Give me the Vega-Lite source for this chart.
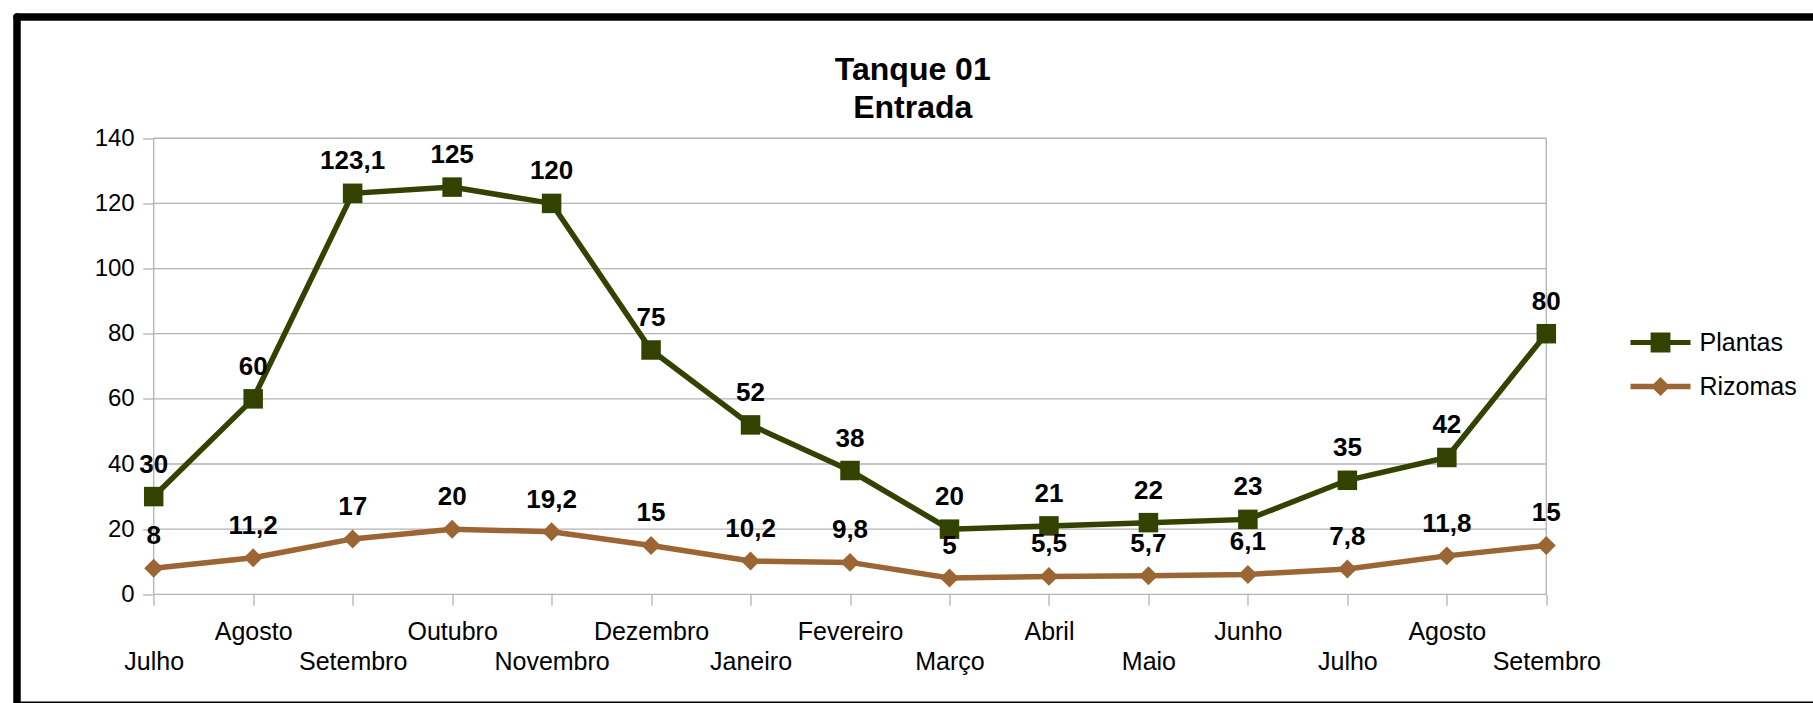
{
  "$schema": "https://vega.github.io/schema/vega-lite/v6.json",
  "autosize": {"type": "none"},
  "padding": {"left": 16.5, "top": 16.5, "right": 0, "bottom": 1},
  "width": 1796.5,
  "height": 685.5,
  "background": "white",
  "title": {
    "text": ["Tanque 01", "Entrada"],
    "font": "Liberation Sans",
    "fontSize": 32,
    "fontWeight": "bold",
    "color": "black",
    "anchor": "middle",
    "frame": "group",
    "lineHeight": 38,
    "offset": -108,
    "dx": -2
  },
  "datasets": {
    "serie": [
      {"i": 0, "mes": "Julho", "serie": "Plantas", "valor": 30},
      {"i": 1, "mes": "Agosto", "serie": "Plantas", "valor": 60},
      {"i": 2, "mes": "Setembro", "serie": "Plantas", "valor": 123.1},
      {"i": 3, "mes": "Outubro", "serie": "Plantas", "valor": 125},
      {"i": 4, "mes": "Novembro", "serie": "Plantas", "valor": 120},
      {"i": 5, "mes": "Dezembro", "serie": "Plantas", "valor": 75},
      {"i": 6, "mes": "Janeiro", "serie": "Plantas", "valor": 52},
      {"i": 7, "mes": "Fevereiro", "serie": "Plantas", "valor": 38},
      {"i": 8, "mes": "Março", "serie": "Plantas", "valor": 20},
      {"i": 9, "mes": "Abril", "serie": "Plantas", "valor": 21},
      {"i": 10, "mes": "Maio", "serie": "Plantas", "valor": 22},
      {"i": 11, "mes": "Junho", "serie": "Plantas", "valor": 23},
      {"i": 12, "mes": "Julho", "serie": "Plantas", "valor": 35},
      {"i": 13, "mes": "Agosto", "serie": "Plantas", "valor": 42},
      {"i": 14, "mes": "Setembro", "serie": "Plantas", "valor": 80},
      {"i": 0, "mes": "Julho", "serie": "Rizomas", "valor": 8},
      {"i": 1, "mes": "Agosto", "serie": "Rizomas", "valor": 11.2},
      {"i": 2, "mes": "Setembro", "serie": "Rizomas", "valor": 17},
      {"i": 3, "mes": "Outubro", "serie": "Rizomas", "valor": 20},
      {"i": 4, "mes": "Novembro", "serie": "Rizomas", "valor": 19.2},
      {"i": 5, "mes": "Dezembro", "serie": "Rizomas", "valor": 15},
      {"i": 6, "mes": "Janeiro", "serie": "Rizomas", "valor": 10.2},
      {"i": 7, "mes": "Fevereiro", "serie": "Rizomas", "valor": 9.8},
      {"i": 8, "mes": "Março", "serie": "Rizomas", "valor": 5},
      {"i": 9, "mes": "Abril", "serie": "Rizomas", "valor": 5.5},
      {"i": 10, "mes": "Maio", "serie": "Rizomas", "valor": 5.7},
      {"i": 11, "mes": "Junho", "serie": "Rizomas", "valor": 6.1},
      {"i": 12, "mes": "Julho", "serie": "Rizomas", "valor": 7.8},
      {"i": 13, "mes": "Agosto", "serie": "Rizomas", "valor": 11.8},
      {"i": 14, "mes": "Setembro", "serie": "Rizomas", "valor": 15}
    ],
    "grade": [{"g": 0}, {"g": 20}, {"g": 40}, {"g": 60}, {"g": 80}, {"g": 100}, {"g": 120}, {"g": 140}],
    "borda": [{"b": 0}, {"b": 14}]
  },
  "layer": [
    {
      "data": {"name": "grade"},
      "mark": {"type": "rule", "color": "#b3b3b3", "strokeWidth": 1.3},
      "encoding": {
        "y": {
          "field": "g", "type": "quantitative",
          "scale": {"domain": [-33.062, 177.376], "nice": false, "zero": false},
          "axis": {"orient": "left", "domain": true, "domainColor": "black", "domainWidth": 7.5, "domainCap": "round", "ticks": false, "labels": false, "grid": false, "title": null}
        },
        "x": {
          "datum": 0, "type": "quantitative",
          "scale": {"domain": [-1.3793, 16.681], "nice": false, "zero": false},
          "axis": {"orient": "top", "domain": true, "domainColor": "black", "domainWidth": 7.5, "domainCap": "round", "ticks": false, "labels": false, "grid": false, "title": null}
        },
        "x2": {"datum": 14}
      }
    },
    {
      "data": {"name": "borda"},
      "mark": {"type": "rule", "color": "#b3b3b3", "strokeWidth": 1.3},
      "encoding": {
        "x": {
          "field": "b", "type": "quantitative",
          "scale": {"domain": [-1.3793, 16.681], "nice": false, "zero": false},
          "axis": {"orient": "bottom", "domain": true, "domainColor": "black", "domainWidth": 2, "ticks": false, "labels": false, "grid": false, "title": null}
        },
        "y": {"datum": 0, "type": "quantitative", "scale": {"domain": [-33.062, 177.376], "nice": false, "zero": false}, "axis": null},
        "y2": {"datum": 140}
      }
    },
    {
      "data": {"name": "serie"},
      "mark": {"type": "line", "strokeWidth": 5.5},
      "encoding": {
        "x": {
          "field": "i", "type": "quantitative",
          "scale": {"domain": [-1.3793, 16.681], "nice": false, "zero": false},
          "axis": {
            "orient": "bottom", "offset": -107.7, "values": [0, 1, 2, 3, 4, 5, 6, 7, 8, 9, 10, 11, 12, 13, 14],
            "domain": false, "grid": false, "ticks": true, "tickSize": 11, "tickColor": "#b3b3b3", "tickWidth": 1.3,
            "labelFont": "Liberation Sans", "labelFontSize": 25, "labelColor": "black", "labelPadding": 14,
            "labelLineHeight": 30, "labelBaseline": "top", "labelAngle": 0, "labelAlign": "center",
            "labelOverlap": false, "labelBound": false, "labelFlush": false, "title": null,
            "labelExpr": "datum.value % 2 == 0 ? ['', ['Julho','Agosto','Setembro','Outubro','Novembro','Dezembro','Janeiro','Fevereiro','Março','Abril','Maio','Junho','Julho','Agosto','Setembro'][datum.value]] : ['Julho','Agosto','Setembro','Outubro','Novembro','Dezembro','Janeiro','Fevereiro','Março','Abril','Maio','Junho','Julho','Agosto','Setembro'][datum.value]"
          }
        },
        "y": {
          "field": "valor", "type": "quantitative",
          "scale": {"domain": [-33.062, 177.376], "nice": false, "zero": false},
          "axis": {
            "orient": "left", "offset": -137.2, "values": [0, 20, 40, 60, 80, 100, 120, 140],
            "domain": false, "grid": false, "ticks": true, "tickSize": 11, "tickColor": "#b3b3b3", "tickWidth": 1.3,
            "labelFont": "Liberation Sans", "labelFontSize": 24, "labelColor": "black", "labelPadding": 8.5,
            "labelOverlap": false, "labelBound": false, "labelFlush": false, "title": null
          }
        },
        "color": {
          "field": "serie", "type": "nominal",
          "scale": {"domain": ["Plantas", "Rizomas"], "range": ["#344200", "#9b6634"]},
          "legend": {
            "orient": "none", "legendX": 1614, "legendY": 296, "title": null, "padding": 0,
            "symbolSize": 3600, "symbolStrokeWidth": 0, "symbolOffset": 0,
            "labelFont": "Liberation Sans", "labelFontSize": 25, "labelColor": "black", "labelOffset": 9,
            "rowPadding": 1,
            "encode": {
              "symbols": {
                "update": {
                  "shape": {"signal": "datum.value === 'Plantas' ? 'M-1,-0.085H1V0.085H-1ZM-0.33,-0.33H0.33V0.33H-0.33Z' : 'M-1,-0.09H1V0.09H-1ZM0,-0.32L0.32,0L0,0.32L-0.32,0Z'"},
                  "fill": {"scale": "color", "field": "value"},
                  "stroke": {"value": "transparent"},
                  "opacity": {"value": 1}
                }
              }
            }
          }
        }
      }
    },
    {
      "data": {"name": "serie"},
      "transform": [{"filter": "datum.serie === 'Plantas'"}],
      "mark": {"type": "point", "shape": "square", "filled": true, "opacity": 1, "size": 380},
      "encoding": {
        "x": {"field": "i", "type": "quantitative", "scale": {"domain": [-1.3793, 16.681], "nice": false, "zero": false}, "axis": null},
        "y": {"field": "valor", "type": "quantitative", "scale": {"domain": [-33.062, 177.376], "nice": false, "zero": false}, "axis": null},
        "color": {"field": "serie", "type": "nominal", "scale": {"domain": ["Plantas", "Rizomas"], "range": ["#344200", "#9b6634"]}}
      }
    },
    {
      "data": {"name": "serie"},
      "transform": [{"filter": "datum.serie === 'Rizomas'"}],
      "mark": {"type": "point", "shape": "diamond", "filled": true, "opacity": 1, "size": 360},
      "encoding": {
        "x": {"field": "i", "type": "quantitative", "scale": {"domain": [-1.3793, 16.681], "nice": false, "zero": false}, "axis": null},
        "y": {"field": "valor", "type": "quantitative", "scale": {"domain": [-33.062, 177.376], "nice": false, "zero": false}, "axis": null},
        "color": {"field": "serie", "type": "nominal", "scale": {"domain": ["Plantas", "Rizomas"], "range": ["#344200", "#9b6634"]}}
      }
    },
    {
      "data": {"name": "serie"},
      "mark": {"type": "text", "dy": -32, "font": "Liberation Sans", "fontSize": 26, "fontWeight": "bold", "color": "black", "baseline": "middle", "align": "center"},
      "encoding": {
        "x": {"field": "i", "type": "quantitative", "scale": {"domain": [-1.3793, 16.681], "nice": false, "zero": false}, "axis": null},
        "y": {"field": "valor", "type": "quantitative", "scale": {"domain": [-33.062, 177.376], "nice": false, "zero": false}, "axis": null},
        "text": {"field": "valor", "type": "quantitative", "format": "~g"}
      }
    }
  ],
  "resolve": {"axis": {"x": "independent", "y": "independent"}},
  "config": {
    "view": {"stroke": null},
    "font": "Liberation Sans",
    "locale": {
      "number": {"decimal": ",", "thousands": ".", "grouping": [3], "currency": ["", " €"]}
    }
  }
}
